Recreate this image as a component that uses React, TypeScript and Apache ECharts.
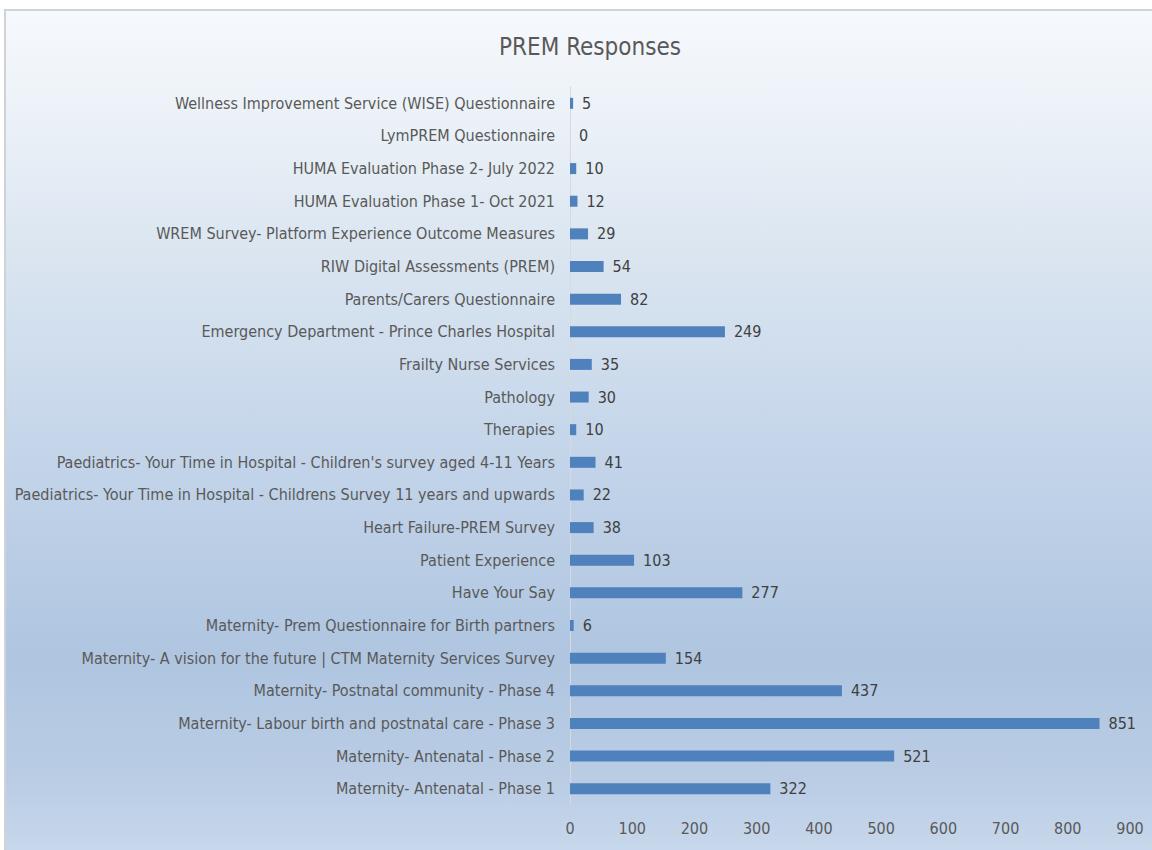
import React, { useEffect, useRef } from "react";
import * as echarts from "echarts";

const categories: string[] = [
  "Maternity- Antenatal - Phase 1",
  "Maternity- Antenatal - Phase 2",
  "Maternity- Labour birth and postnatal care - Phase 3",
  "Maternity- Postnatal community - Phase 4",
  "Maternity- A vision for the future | CTM Maternity Services Survey",
  "Maternity- Prem Questionnaire for Birth partners",
  "Have Your Say",
  "Patient Experience",
  "Heart Failure-PREM Survey",
  "Paediatrics- Your Time in Hospital - Childrens Survey 11 years and upwards",
  "Paediatrics- Your Time in Hospital - Children's survey aged 4-11 Years",
  "Therapies",
  "Pathology",
  "Frailty Nurse Services",
  "Emergency Department - Prince Charles Hospital",
  "Parents/Carers Questionnaire",
  "RIW Digital Assessments (PREM)",
  "WREM Survey- Platform Experience Outcome Measures",
  "HUMA Evaluation Phase 1- Oct 2021",
  "HUMA Evaluation Phase 2- July 2022",
  "LymPREM Questionnaire",
  "Wellness Improvement Service (WISE) Questionnaire",
];

const responses: number[] = [
  322, 521, 851, 437, 154, 6, 277, 103, 38, 22, 41, 10, 30, 35, 249, 82, 54, 29,
  12, 10, 0, 5,
];

const FONT = "'Liberation Sans Narrow', 'DejaVu Sans Condensed', 'Liberation Sans', sans-serif";

export default function App() {
  const ref = useRef<HTMLDivElement>(null);
  useEffect(() => {
    if (!ref.current) return;
    const chart = echarts.init(ref.current, undefined, { renderer: "svg" });
    chart.setOption({
      animation: false,
      backgroundColor: "#ffffff",
      graphic: [
        {
          type: "rect",
          z: -10,
          silent: true,
          shape: { x: 5, y: 10, width: 1160, height: 850 },
          style: {
            fill: new echarts.graphic.LinearGradient(0, 0, 0, 1, [
              { offset: 0, color: "#f6f9fd" },
              { offset: 0.1, color: "#eef3f9" },
              { offset: 0.29, color: "#dae5f0" },
              { offset: 0.52, color: "#c4d5ea" },
              { offset: 0.76, color: "#afc5e0" },
              { offset: 0.9, color: "#b9cce4" },
              { offset: 1, color: "#c9d9ed" },
            ]),
            stroke: "#d0d3d6",
            lineWidth: 2,
          },
        },
      ],
      title: {
        text: "PREM Responses",
        left: 585,
        top: 30,
        textAlign: "center",
        textStyle: {
          fontFamily: FONT,
          fontSize: 24,
          fontWeight: "normal",
          color: "#595959",
        },
      },
      grid: { left: 570, right: 22, top: 87, bottom: 45, containLabel: false },
      xAxis: {
        type: "value",
        min: 0,
        max: 900,
        interval: 100,
        splitLine: { show: false },
        axisLine: { show: false },
        axisTick: { show: false },
        axisLabel: {
          color: "#595959",
          fontFamily: FONT,
          fontSize: 16,
          margin: 15,
        },
      },
      yAxis: {
        type: "category",
        data: categories,
        axisTick: { show: false },
        axisLine: { show: true, lineStyle: { color: "#d9d9d9", width: 1 } },
        axisLabel: {
          color: "#595959",
          fontFamily: FONT,
          fontSize: 16,
          margin: 15,
        },
      },
      series: [
        {
          type: "bar",
          data: responses,
          barWidth: 11,
          itemStyle: { color: "#4f81bd" },
          label: {
            show: true,
            position: "right",
            distance: 9,
            color: "#404040",
            fontFamily: FONT,
            fontSize: 16,
          },
        },
      ],
    });
    return () => chart.dispose();
  }, []);
  return (
    <div
      ref={ref}
      style={{ position: "fixed", left: 0, top: 0, width: 1152, height: 850 }}
    />
  );
}
